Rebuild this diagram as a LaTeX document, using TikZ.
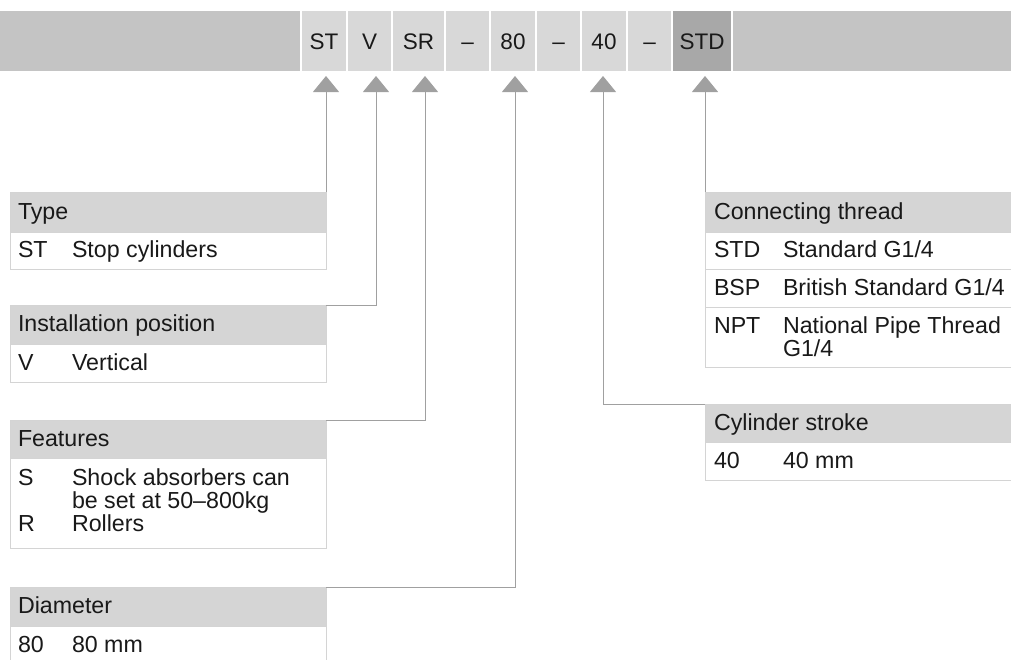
\documentclass[tikz,border=0pt]{standalone}
\usepackage{fontspec}
\setmainfont{Liberation Sans}
\usetikzlibrary{arrows.meta}
\definecolor{bargray}{RGB}{196,196,196}
\definecolor{cellgray}{RGB}{216,216,216}
\definecolor{stdgray}{RGB}{168,168,168}
\definecolor{hdrgray}{RGB}{213,213,213}
\definecolor{boxline}{RGB}{212,212,212}
\definecolor{connc}{RGB}{160,160,160}
\definecolor{ink}{RGB}{25,25,25}
\newcommand\bodyfs{\fontsize{23.2}{23}\selectfont}
\newcommand\barfs{\fontsize{22.5}{23}\selectfont}
\begin{document}
\begin{tikzpicture}[x=1pt,y=-1pt,
  barpart/.style={fill=bargray, inner sep=0, outer sep=0, minimum height=60pt, anchor=north west},
  cell/.style={fill=cellgray, inner sep=0, outer sep=0, minimum height=60pt, anchor=north west, text=ink, font=\barfs, text height=16pt, text depth=0pt},
  divider/.style={draw=white, line width=1.5pt},
  hdr/.style={fill=hdrgray, draw=boxline, line width=1pt, inner sep=0, outer sep=0, anchor=north west},
  rowbox/.style={fill=white, draw=boxline, line width=1pt, inner sep=0, outer sep=0, anchor=north west},
  txt/.style={anchor=base west, inner sep=0, outer sep=0, text=ink, font=\bodyfs},
  connector/.style={draw=connc, line width=1pt, -{Triangle[width=26pt,length=16pt]}}
]
\useasboundingbox (0,0) rectangle (1011,659);
\clip (0,0) rectangle (1011,659);

% ---- top bar ----
\node[barpart, minimum width=301pt] (barL) at (0,11) {};
\node[barpart, minimum width=279pt] (barR) at (732,11) {};
\node[cell, minimum width=46pt] (cST) at (301,11) {ST};
\node[cell, minimum width=45pt] (cV) at (347,11) {V};
\node[cell, minimum width=53pt] (cSR) at (392,11) {SR};
\node[cell, minimum width=45pt] (cd1) at (445,11) {--};
\node[cell, minimum width=46pt] (c80) at (490,11) {80};
\node[cell, minimum width=45pt] (cd2) at (536,11) {--};
\node[cell, minimum width=46pt] (c40) at (581,11) {40};
\node[cell, minimum width=45pt] (cd3) at (627,11) {--};
\node[cell, fill=stdgray, minimum width=60pt] (cSTD) at (672,11) {STD};
\foreach \x in {301,347,392,445,490,536,581,627,672,732}
  \draw[divider] (\x,11) -- (\x,71);

% arrow tips
\coordinate (tST) at (326,76);
\coordinate (tV) at (376,76);
\coordinate (tSR) at (425,76);
\coordinate (t80) at (515,76);
\coordinate (t40) at (603,76);
\coordinate (tSTD) at (705,76);

% ---- left boxes ----
\node[hdr, minimum width=316pt, minimum height=40pt] (typeH) at (10,192) {};
\node[rowbox, minimum width=316pt, minimum height=37pt] (typeR) at (10,232) {};
\node[txt] (typeT) at (18,219) {Type};
\node[txt] (typeC) at (18,257) {ST};
\node[txt] (typeD) at (72,257) {Stop cylinders};

\node[hdr, minimum width=316pt, minimum height=39pt] (instH) at (10,305) {};
\node[rowbox, minimum width=316pt, minimum height=38pt] (instR) at (10,344) {};
\node[txt] (instT) at (18,331) {Installation position};
\node[txt] (instC) at (18,370) {V};
\node[txt] (instD) at (72,370) {Vertical};

\node[hdr, minimum width=316pt, minimum height=38pt] (featH) at (10,420) {};
\node[rowbox, minimum width=316pt, minimum height=90pt] (featR) at (10,458) {};
\node[txt] (featT) at (18,446) {Features};
\node[txt] (featC1) at (18,485) {S};
\node[txt] (featD1) at (72,485) {Shock absorbers can};
\node[txt] (featD1b) at (72,508) {be set at 50--800kg};
\node[txt] (featC2) at (18,531) {R};
\node[txt] (featD2) at (72,531) {Rollers};

\node[hdr, minimum width=316pt, minimum height=39pt] (diaH) at (10,587) {};
\node[rowbox, minimum width=316pt, minimum height=45pt] (diaR) at (10,626) {};
\node[txt] (diaT) at (18,613) {Diameter};
\node[txt] (diaC) at (18,652) {80};
\node[txt] (diaD) at (72,652) {80 mm};

% ---- right boxes ----
\node[hdr, minimum width=330pt, minimum height=40pt] (conH) at (705,192) {};
\node[rowbox, minimum width=330pt, minimum height=37pt] (conR1) at (705,232) {};
\node[rowbox, minimum width=330pt, minimum height=38pt] (conR2) at (705,269) {};
\node[rowbox, minimum width=330pt, minimum height=60pt] (conR3) at (705,307) {};
\node[txt] (conT) at (714,219) {Connecting thread};
\node[txt] (conC1) at (714,257) {STD};
\node[txt] (conD1) at (783,257) {Standard G1/4};
\node[txt] (conC2) at (714,295) {BSP};
\node[txt] (conD2) at (783,295) {British Standard G1/4};
\node[txt] (conC3) at (714,333) {NPT};
\node[txt] (conD3) at (783,333) {National Pipe Thread};
\node[txt] (conD3b) at (783,356) {G1/4};

\node[hdr, minimum width=330pt, minimum height=38pt] (cylH) at (705,404) {};
\node[rowbox, minimum width=330pt, minimum height=38pt] (cylR) at (705,442) {};
\node[txt] (cylT) at (714,430) {Cylinder stroke};
\node[txt] (cylC) at (714,468) {40};
\node[txt] (cylD) at (783,468) {40 mm};

% ---- connectors ----
\draw[connector] (typeH.north east) -- (tST);
\draw[connector] (instH.north east) -| (tV);
\draw[connector] (featH.north east) -| (tSR);
\draw[connector] (diaH.north east) -| (t80);
\draw[connector] (cylH.north west) -| (t40);
\draw[connector] (conH.north west) -- (tSTD);
\end{tikzpicture}
\end{document}
